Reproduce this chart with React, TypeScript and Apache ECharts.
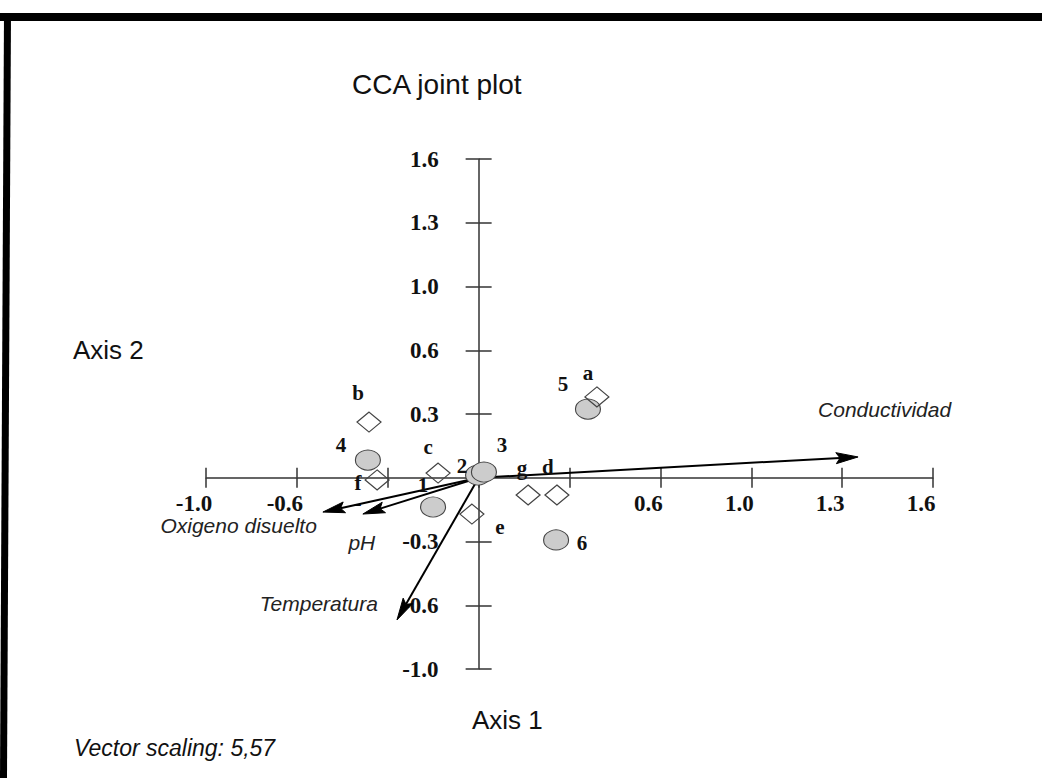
import React, { useEffect, useRef } from 'react';
import * as echarts from 'echarts';

// ---- axis scale (PC-ORD style: 9 ticks, rounded labels) ----
const AXIS_MIN = -0.975;
const AXIS_MAX = 1.625;
const AXIS_STEP = 0.325;
const xTickLabels = ['-1.0', '-0.6', '-', '', '', '0.6', '1.0', '1.3', '1.6'];
const yTickLabels = ['-1.0', '-0.6', '-0.3', '', '0.3', '0.6', '1.0', '1.3', '1.6'];

// ---- sites (grey circles) ----
const siteNames = ['1', '2', '3', '4', '5', '6'];
const siteX = [-0.163, -0.002, 0.019, -0.396, 0.391, 0.277];
const siteY = [-0.149, 0.014, 0.029, 0.09, 0.35, -0.317];

// ---- species (open diamonds) ----
const speciesNames = ['a', 'b', 'c', 'd', 'e', 'f', 'g'];
const speciesX = [0.423, -0.392, -0.145, 0.28, -0.024, -0.363, 0.177];
const speciesY = [0.412, 0.284, 0.024, -0.088, -0.185, -0.011, -0.088];

// ---- environmental vectors ----
const vectorNames = ['Conductividad', 'Oxigeno disuelto', 'pH', 'Temperatura'];
const vectorX = [1.357, -0.557, -0.414, -0.292];
const vectorY = [0.106, -0.175, -0.185, -0.725];

// ---- label placement (style only) ----
const siteLabelOffsets = [[-10, -22], [-16, -9], [18, -27], [-27, -15], [-25, -25], [26, 3]];
const speciesLabelOffsets = [[-9, -24], [-11, -29], [-10, -26], [-9, -28], [28, 13], [-19, 3], [-6, -27]];
const vectorLabelPlacement = [
  { align: 'left', dx: -40, dy: -47 },
  { align: 'right', dx: -6, dy: 13 },
  { align: 'center', dx: -1, dy: 28 },
  { align: 'right', dx: -19, dy: -16 },
];

const SERIF = '"Liberation Serif", "Times New Roman", serif';
const SANS = '"Liberation Sans", Arial, sans-serif';
const INK = '#111';
const AXIS_COLOR = '#333';

// grid layout (pixels)
const GRID_LEFT = 206;
const GRID_RIGHT = 109;
const GRID_TOP = 159;
const GRID_BOTTOM = 109;
const CHART_W = 1042;
const CHART_H = 778;

function tickIndex(v: number) {
  return Math.round((v - AXIS_MIN) / AXIS_STEP);
}

export default function App() {
  const ref = useRef<HTMLDivElement>(null);

  useEffect(() => {
    if (!ref.current) return;
    const chart = echarts.init(ref.current, undefined, { renderer: 'svg' });

    const gridW = CHART_W - GRID_LEFT - GRID_RIGHT;
    const gridH = CHART_H - GRID_TOP - GRID_BOTTOM;
    const zeroFrac = (0 - AXIS_MIN) / (AXIS_MAX - AXIS_MIN);
    // move the axes from the grid edges to the origin (axes cross at 0,0)
    const yAxisOffset = -zeroFrac * gridW;
    const xAxisOffset = -zeroFrac * gridH;

    const baseAxis = {
      type: 'value',
      min: AXIS_MIN,
      max: AXIS_MAX,
      interval: AXIS_STEP,
      splitLine: { show: false },
    };

    const tickLabelStyle = {
      fontFamily: SERIF,
      fontWeight: 'bold',
      fontSize: 23,
      color: INK,
    };
    const lineStyle = { color: AXIS_COLOR, width: 1.5 };

    const option: any = {
      animation: false,
      backgroundColor: '#ffffff',
      grid: { left: GRID_LEFT, right: GRID_RIGHT, top: GRID_TOP, bottom: GRID_BOTTOM, containLabel: false },
      xAxis: [
        {
          ...baseAxis,
          position: 'bottom',
          offset: xAxisOffset,
          axisLine: { show: true, onZero: false, lineStyle },
          axisTick: { show: true, inside: false, length: 10, lineStyle },
          axisLabel: {
            show: true,
            margin: 18,
            formatter: (v: number) => {
              const t = xTickLabels[tickIndex(v)] ?? '';
              if (!t) return '';
              return t === '-' ? '{m|-}' : '{v|' + t + '}';
            },
            rich: {
              v: { ...tickLabelStyle, lineHeight: 16, padding: [0, 24, 0, 0] },
              m: { ...tickLabelStyle, lineHeight: 16, padding: [0, 60, 0, 0] },
            },
          },
        },
        {
          ...baseAxis,
          position: 'bottom',
          offset: xAxisOffset,
          axisLine: { show: false, onZero: false },
          axisTick: { show: true, inside: true, length: 10, lineStyle },
          axisLabel: { show: false },
        },
      ],
      yAxis: [
        {
          ...baseAxis,
          position: 'left',
          offset: yAxisOffset,
          axisLine: { show: true, onZero: false, lineStyle },
          axisTick: { show: true, inside: false, length: 13, lineStyle },
          axisLabel: {
            show: true,
            margin: 40,
            ...tickLabelStyle,
            formatter: (v: number) => yTickLabels[tickIndex(v)] ?? '',
          },
        },
        {
          ...baseAxis,
          position: 'left',
          offset: yAxisOffset,
          axisLine: { show: false, onZero: false },
          axisTick: { show: true, inside: true, length: 13, lineStyle },
          axisLabel: { show: false },
        },
      ],
      series: [
        {
          type: 'scatter',
          name: 'Sites',
          silent: true,
          symbol: 'circle',
          symbolSize: [25, 20],
          itemStyle: { color: '#cccccc', borderColor: '#444', borderWidth: 1, opacity: 1 },
          label: {
            show: true,
            position: 'inside',
            formatter: '{b}',
            fontFamily: SERIF,
            fontWeight: 'bold',
            fontSize: 21,
            color: INK,
          },
          data: siteNames.map((n, i) => ({
            name: n,
            value: [siteX[i], siteY[i]],
            label: { offset: siteLabelOffsets[i] },
          })),
        },
        {
          type: 'scatter',
          name: 'Species',
          silent: true,
          symbol: 'diamond',
          symbolSize: [24, 20],
          itemStyle: { color: 'rgba(255,255,255,0)', borderColor: '#444', borderWidth: 1.2, opacity: 1 },
          label: {
            show: true,
            position: 'inside',
            formatter: '{b}',
            fontFamily: SERIF,
            fontWeight: 'bold',
            fontSize: 21,
            color: INK,
          },
          data: speciesNames.map((n, i) => ({
            name: n,
            value: [speciesX[i], speciesY[i]],
            label: { offset: speciesLabelOffsets[i] },
          })),
        },
        {
          type: 'custom',
          name: 'Vectors',
          silent: true,
          coordinateSystem: 'cartesian2d',
          encode: { x: 0, y: 1 },
          data: vectorNames.map((n, i) => [vectorX[i], vectorY[i]]),
          renderItem: (params: any, api: any) => {
            const o = api.coord([0, 0]);
            const p = api.coord([api.value(0), api.value(1)]);
            const dx = p[0] - o[0];
            const dy = p[1] - o[1];
            const len = Math.hypot(dx, dy) || 1;
            const ux = dx / len;
            const uy = dy / len;
            const nx = -uy;
            const ny = ux;
            const headLen = 22;
            const headW = 5.5;
            const bx = p[0] - ux * headLen;
            const by = p[1] - uy * headLen;
            const notchX = p[0] - ux * headLen * 0.82;
            const notchY = p[1] - uy * headLen * 0.82;
            const place = vectorLabelPlacement[params.dataIndex];
            return {
              type: 'group',
              children: [
                {
                  type: 'line',
                  shape: { x1: o[0], y1: o[1], x2: notchX, y2: notchY },
                  style: { stroke: '#000', lineWidth: 2 },
                },
                {
                  type: 'polygon',
                  shape: {
                    points: [
                      [p[0], p[1]],
                      [bx + nx * headW, by + ny * headW],
                      [notchX, notchY],
                      [bx - nx * headW, by - ny * headW],
                    ],
                  },
                  style: { fill: '#000', stroke: '#000', lineWidth: 1 },
                },
                {
                  type: 'text',
                  x: p[0] + place.dx,
                  y: p[1] + place.dy,
                  style: {
                    text: vectorNames[params.dataIndex],
                    fontFamily: SANS,
                    fontStyle: 'italic',
                    fontSize: 21,
                    lineHeight: 16,
                    fill: '#222',
                    align: place.align,
                    verticalAlign: 'middle',
                  },
                },
              ],
            };
          },
        },
      ],
      graphic: [
        {
          type: 'rect',
          shape: { x: 0, y: 13, width: 1042, height: 8 },
          style: { fill: '#000' },
          silent: true,
        },
        {
          type: 'polygon',
          shape: { points: [[4, 13], [11, 13], [7, 778], [0, 778]] },
          style: { fill: '#000' },
          silent: true,
        },
        {
          type: 'text',
          x: 352,
          y: 84,
          style: { text: 'CCA joint plot', fontFamily: SANS, fontSize: 28, fill: INK, align: 'left', verticalAlign: 'middle' },
        },
        {
          type: 'text',
          x: 73,
          y: 350,
          style: { text: 'Axis 2', fontFamily: SANS, fontSize: 26, fill: INK, align: 'left', verticalAlign: 'middle' },
        },
        {
          type: 'text',
          x: 472,
          y: 720,
          style: { text: 'Axis 1', fontFamily: SANS, fontSize: 26, fill: INK, align: 'left', verticalAlign: 'middle' },
        },
        {
          type: 'text',
          x: 74,
          y: 748,
          style: {
            text: 'Vector scaling: 5,57',
            fontFamily: SANS,
            fontStyle: 'italic',
            fontSize: 23,
            fill: INK,
            align: 'left',
            verticalAlign: 'middle',
          },
        },
      ],
    };

    chart.setOption(option);
    return () => {
      chart.dispose();
    };
  }, []);

  return (
    <div
      ref={ref}
      style={{ position: 'fixed', left: 0, top: 0, width: CHART_W, height: CHART_H, background: '#fff' }}
    />
  );
}
